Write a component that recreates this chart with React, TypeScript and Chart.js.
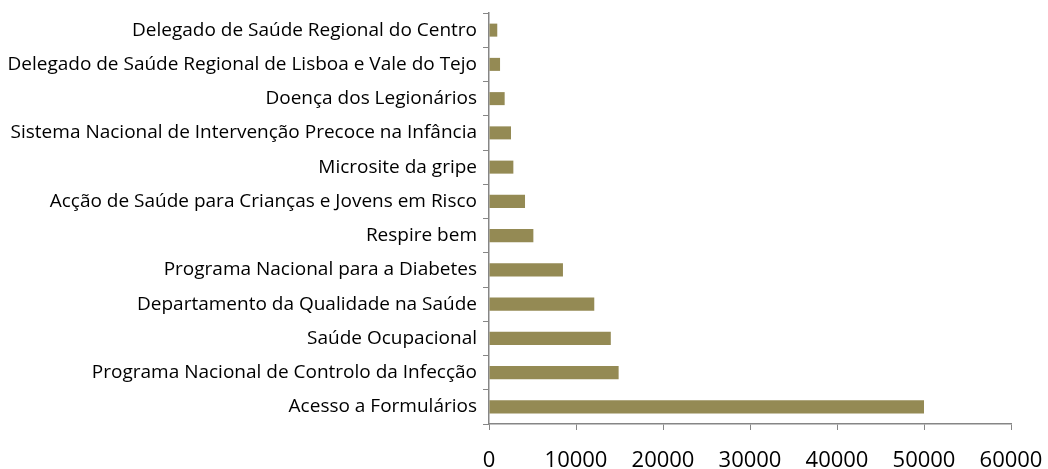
import React, { useEffect, useRef } from "react";
import { Chart, registerables } from "chart.js";

Chart.register(...registerables);

const categories = [
  "Delegado de Saúde Regional do Centro",
  "Delegado de Saúde Regional de Lisboa e Vale do Tejo",
  "Doença dos Legionários",
  "Sistema Nacional de Intervenção Precoce na Infância",
  "Microsite da gripe",
  "Acção de Saúde para Crianças e Jovens em Risco",
  "Respire bem",
  "Programa Nacional para a Diabetes",
  "Departamento da Qualidade na Saúde",
  "Saúde Ocupacional",
  "Programa Nacional de Controlo da Infecção",
  "Acesso a Formulários",
];

const visits = [950, 1270, 1800, 2530, 2800, 4140, 5100, 8500, 12100, 14000, 14900, 50000];

const xMin = 0;
const xMax = 60000;
const xStep = 10000;

export default function App() {
  const ref = useRef<HTMLCanvasElement | null>(null);

  useEffect(() => {
    if (!ref.current) return;
    const chart = new Chart(ref.current, {
      type: "bar",
      data: {
        labels: categories,
        datasets: [
          {
            data: visits,
            backgroundColor: "#948A54",
            borderWidth: 0,
            barPercentage: 0.38,
            categoryPercentage: 1,
          },
        ],
      },
      options: {
        indexAxis: "y",
        animation: false,
        responsive: false,
        maintainAspectRatio: false,
        layout: { padding: { top: 13, right: 37, bottom: 0, left: 0 } },
        plugins: {
          legend: { display: false },
          tooltip: { enabled: false },
        },
        scales: {
          x: {
            min: xMin,
            max: xMax,
            afterFit: (scale: any) => {
              scale.height = 45;
              scale.paddingLeft = 0;
              scale.paddingRight = 0;
            },
            ticks: {
              stepSize: xStep,
              color: "#000",
              font: { family: "Open Sans", size: 22 },
              padding: 18,
              maxRotation: 0,
              callback: (v: any) => String(v),
            },
            grid: {
              drawOnChartArea: false,
              drawTicks: true,
              tickLength: 6,
              color: "#868686",
            },
            border: { display: true, color: "#868686", width: 1.5 },
          },
          y: {
            afterFit: (scale: any) => {
              scale.width = 489;
              scale.paddingTop = 0;
              scale.paddingBottom = 0;
            },
            ticks: {
              color: "#000",
              font: { family: "Open Sans", size: 19 },
              padding: 6,
            },
            grid: {
              drawOnChartArea: false,
              drawTicks: true,
              tickLength: 6,
              color: "#868686",
              offset: true,
            },
            border: { display: true, color: "#868686", width: 1.5 },
          },
        },
      },
    });
    return () => chart.destroy();
  }, []);

  return (
    <div style={{ position: "fixed", left: 0, top: 0, width: 1048, height: 469, background: "#fff" }}>
      <canvas ref={ref} width={1048} height={469} />
    </div>
  );
}
